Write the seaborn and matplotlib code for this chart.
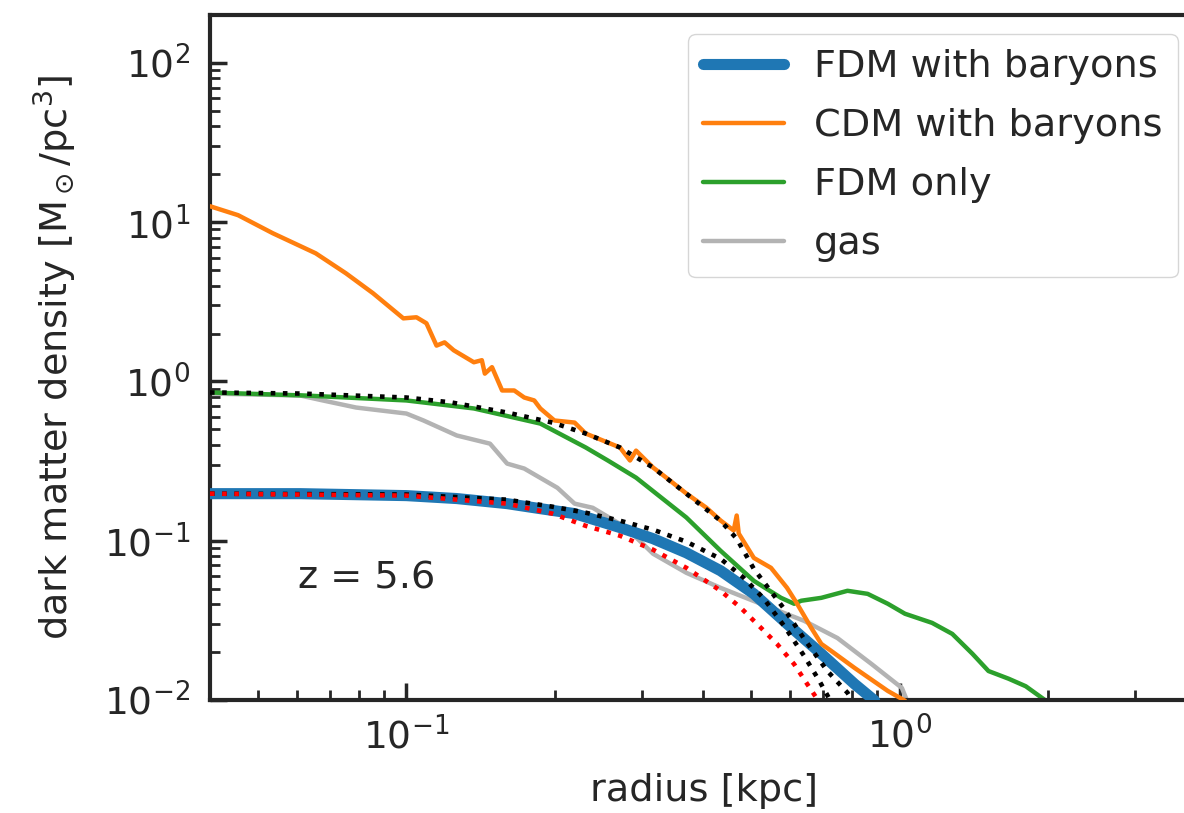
import numpy as np
import pandas as pd
import matplotlib
matplotlib.use("Agg")
import matplotlib.pyplot as plt
import seaborn as sns

# radius [kpc] and dark matter density [Msun/pc^3]
fdm_bary_r = [0.0400, 0.0610, 0.1000, 0.1265, 0.1600, 0.1868, 0.2192, 0.2709, 0.3162,
              0.3692, 0.4332, 0.5059, 0.5907, 0.6931, 0.8094, 0.8892]
fdm_bary_rho = [0.1975, 0.1975, 0.192, 0.184, 0.171, 0.159, 0.148, 0.121, 0.103,
                0.0840, 0.0648, 0.0464, 0.0301, 0.0195, 0.0126, 0.0099]

cdm_bary_r = [0.0400, 0.0456, 0.0536, 0.0655, 0.0754, 0.0856, 0.0986, 0.1048, 0.1098,
              0.1151, 0.1195, 0.1247, 0.1370, 0.1422, 0.1442, 0.1491, 0.1563, 0.1654,
              0.1733, 0.1816, 0.1868, 0.1995, 0.2192, 0.2309, 0.2709, 0.2839, 0.2920,
              0.3059, 0.3162, 0.3362, 0.3692, 0.4056, 0.4332, 0.4605, 0.4670, 0.4715,
              0.5059, 0.5480, 0.5907, 0.6191, 0.6612, 0.6931, 0.7264, 0.8094, 0.9452, 1.024]
cdm_bary_rho = [12.6, 11.07, 8.53, 6.38, 4.78, 3.58, 2.49, 2.53, 2.32,
                1.68, 1.76, 1.57, 1.32, 1.36, 1.12, 1.23, 0.878, 0.878,
                0.793, 0.760, 0.677, 0.569, 0.552, 0.471, 0.385, 0.319, 0.368,
                0.319, 0.288, 0.249, 0.198, 0.161, 0.134, 0.116, 0.144, 0.111,
                0.078, 0.0676, 0.0506, 0.0402, 0.0284, 0.0225, 0.0203, 0.0159, 0.0114, 0.0099]

fdm_only_r = [0.0400, 0.0625, 0.1000, 0.1370, 0.1868, 0.2309, 0.2560, 0.2920, 0.3692,
              0.4332, 0.5059, 0.5743, 0.6105, 0.6310, 0.6931, 0.7832, 0.8603, 0.9452,
              1.024, 1.162, 1.277, 1.403, 1.512, 1.661, 1.799, 1.976]
fdm_only_rho = [0.853, 0.816, 0.760, 0.677, 0.544, 0.385, 0.319, 0.249, 0.140,
                0.0865, 0.0560, 0.0438, 0.0402, 0.0420, 0.0438, 0.0485, 0.0464, 0.0402,
                0.0348, 0.0305, 0.0260, 0.0195, 0.0152, 0.0136, 0.0122, 0.0099]

gas_r = [0.0400, 0.0610, 0.0677, 0.0791, 0.1000, 0.1083, 0.1265, 0.1477, 0.1600,
         0.1733, 0.2023, 0.2192, 0.2386, 0.2786, 0.3162, 0.3692, 0.4332, 0.5480,
         0.6398, 0.7472, 0.8767, 1.0095, 1.034]
gas_rho = [0.840, 0.816, 0.760, 0.686, 0.629, 0.569, 0.458, 0.407, 0.305,
           0.284, 0.215, 0.171, 0.161, 0.121, 0.0828, 0.0629, 0.0506, 0.0379,
           0.0314, 0.0245, 0.0168, 0.0119, 0.0099]

# dotted fit curves
fit_fdm_only_r = [0.0400, 0.0610, 0.1000, 0.1235, 0.1600, 0.1976, 0.2309, 0.2709, 0.3162,
                  0.3692, 0.4332, 0.4670, 0.5059, 0.5825, 0.6398, 0.7129, 0.7832, 0.8018]
fit_fdm_only_rho = [0.853, 0.840, 0.793, 0.738, 0.638, 0.552, 0.471, 0.385, 0.288,
                    0.1975, 0.1336, 0.103, 0.0666, 0.0374, 0.0242, 0.0152, 0.0111, 0.0099]

fit_fdm_bary_r = [0.0400, 0.1000, 0.1600, 0.1976, 0.2309, 0.2709, 0.3162, 0.3692, 0.4332,
                  0.4827, 0.5303, 0.5825, 0.6398, 0.6866, 0.7230]
fit_fdm_bary_rho = [0.1975, 0.195, 0.181, 0.1636, 0.150, 0.1336, 0.1173, 0.0986, 0.0770,
                    0.0585, 0.0432, 0.0292, 0.0189, 0.0132, 0.0099]

sol_fdm_bary_r = [0.0400, 0.1000, 0.1600, 0.1976, 0.2309, 0.2709, 0.3162, 0.3692, 0.4332,
                  0.4760, 0.5229, 0.5636, 0.6105, 0.6489, 0.6834]
sol_fdm_bary_rho = [0.1975, 0.192, 0.171, 0.148, 0.124, 0.1075, 0.0878, 0.0676, 0.0485,
                    0.0379, 0.0284, 0.0225, 0.0168, 0.0126, 0.0099]

FS = 27.5
TICK_FS = 27

sns.set_theme(style="ticks", rc={
    "xtick.direction": "in", "ytick.direction": "in",
    "axes.linewidth": 3.0,
    "xtick.major.size": 12, "xtick.minor.size": 7,
    "ytick.major.size": 12, "ytick.minor.size": 7,
    "xtick.major.width": 2.5, "xtick.minor.width": 2.0,
    "ytick.major.width": 2.5, "ytick.minor.width": 2.0,
})
plt.rcParams['font.family'] = ['DejaVu Sans']

fig = plt.figure(figsize=(11.84, 8.13), dpi=100)
ax = fig.add_axes([210 / 1184, 113 / 813, 987 / 1184, 685 / 813])

sns.lineplot(x=fdm_bary_r, y=fdm_bary_rho, ax=ax, color="#1f77b4", lw=8.0,
             label="FDM with baryons", estimator=None, sort=False, zorder=3)
sns.lineplot(x=cdm_bary_r, y=cdm_bary_rho, ax=ax, color="#ff7f0e", lw=3.2,
             label="CDM with baryons", estimator=None, sort=False, zorder=4)
sns.lineplot(x=fdm_only_r, y=fdm_only_rho, ax=ax, color="#2ca02c", lw=3.2,
             label="FDM only", estimator=None, sort=False, zorder=2.5)
sns.lineplot(x=gas_r, y=gas_rho, ax=ax, color="#b3b3b3", lw=3.2,
             label="gas", estimator=None, sort=False, zorder=2)

sns.lineplot(x=fit_fdm_only_r, y=fit_fdm_only_rho, ax=ax, color="black", lw=3.3,
             linestyle=":", legend=False, estimator=None, sort=False, zorder=5)
sns.lineplot(x=fit_fdm_bary_r, y=fit_fdm_bary_rho, ax=ax, color="black", lw=3.3,
             linestyle=":", legend=False, estimator=None, sort=False, zorder=5)
sns.lineplot(x=sol_fdm_bary_r, y=sol_fdm_bary_rho, ax=ax, color="red", lw=3.3,
             linestyle=":", legend=False, estimator=None, sort=False, zorder=5)

ax.set(xscale="log", yscale="log")
ax.set_xlim(0.04, 4)
ax.set_ylim(1e-2, 2e2)
ax.tick_params(axis="both", which="both", labelsize=TICK_FS)
ax.tick_params(axis="y", which="both", pad=14)
ax.tick_params(axis="x", which="both", pad=12)

ax.set_xlabel("radius [kpc]", fontsize=FS, labelpad=12)
ax.set_ylabel(r"dark matter density [M$_\odot$/pc$^3$]", fontsize=FS, labelpad=18)

ax.text(0.089, 0.178, "z = 5.6", transform=ax.transAxes, fontsize=FS,
        ha="left", va="center")

ax.legend(loc="upper right", fontsize=FS, handlelength=2.1, labelspacing=0.6,
          frameon=True, fancybox=True, framealpha=0.8, edgecolor="0.8")

fig.savefig("out.png", dpi=100)
